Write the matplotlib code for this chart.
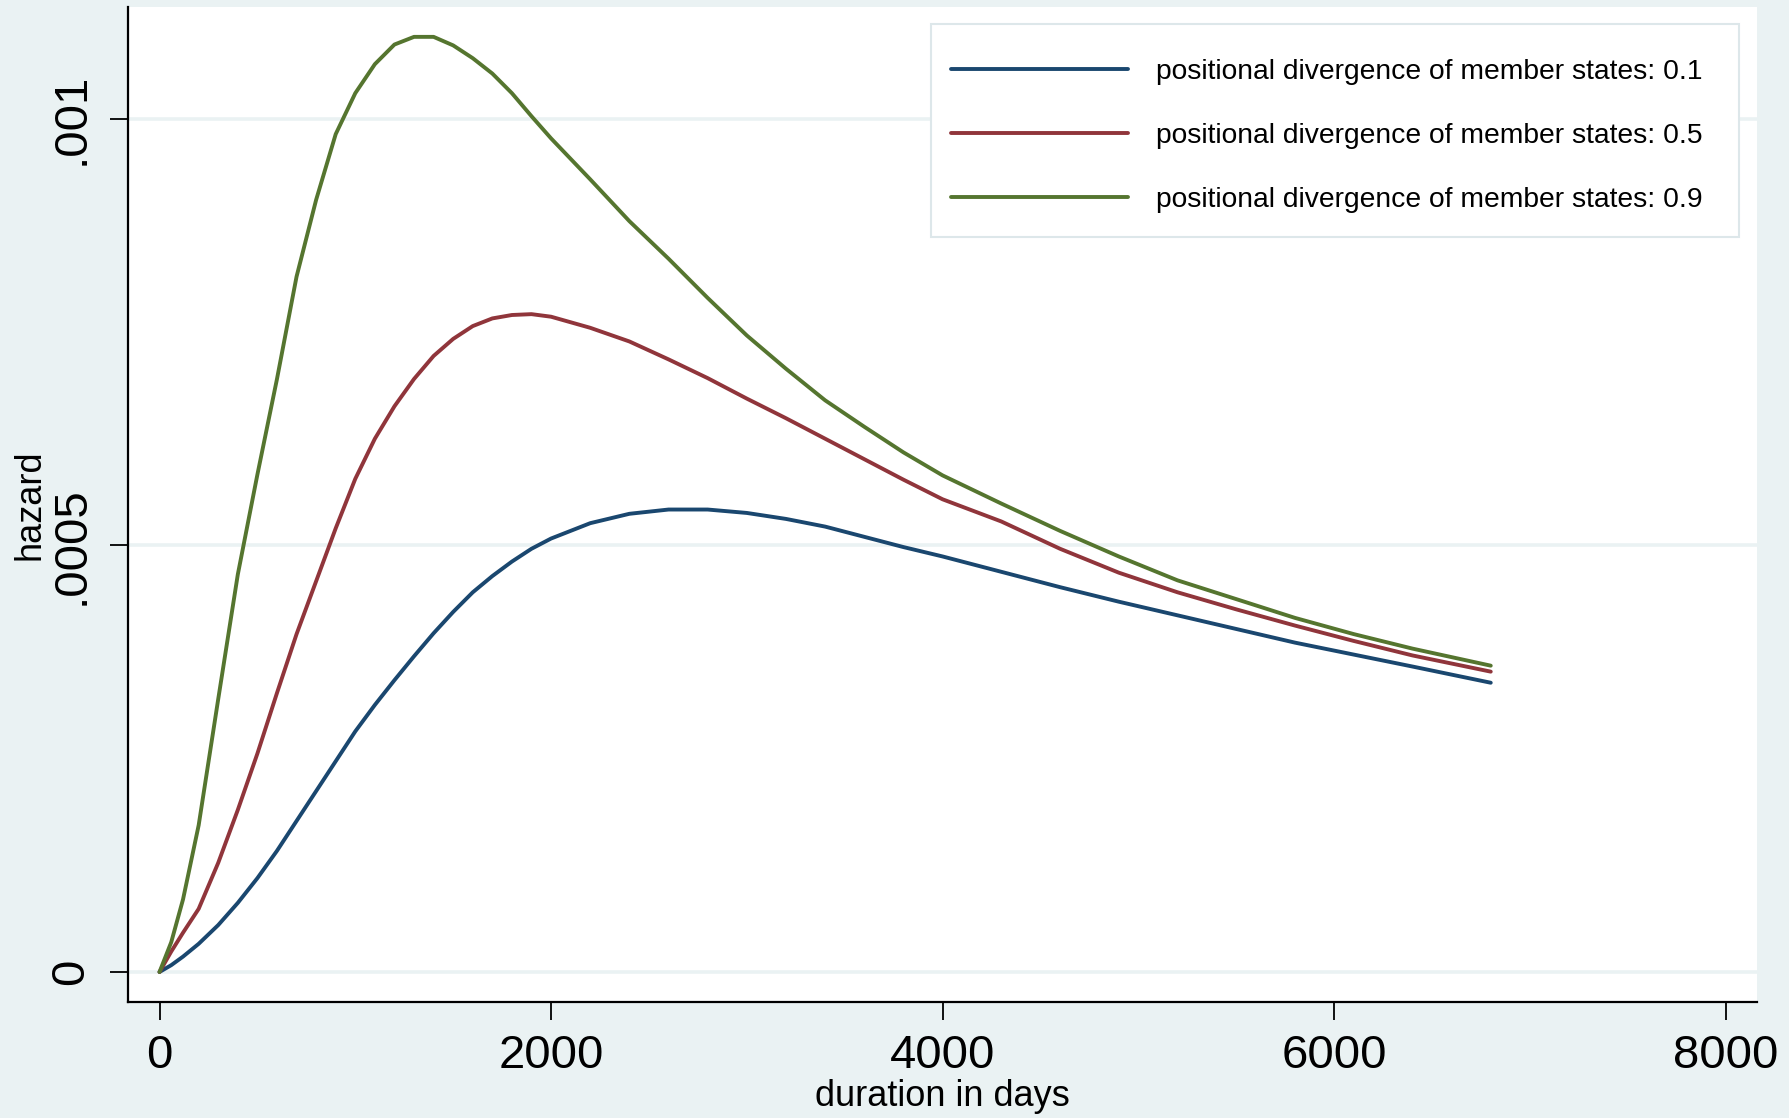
import matplotlib
matplotlib.use("Agg")
import matplotlib.pyplot as plt
from matplotlib.patches import Rectangle

plt.rcParams['font.family'] = ['Liberation Sans', 'DejaVu Sans']

# ---- data, hazard values in units of 1e-3 ----
days = [0, 60, 120, 200, 300, 400, 500, 600, 700, 800,
        900, 1000, 1100, 1200, 1300, 1400, 1500, 1600, 1700, 1800,
        1900, 2000, 2200, 2400, 2600, 2800, 3000, 3200, 3400, 3600,
        3800, 4000, 4300, 4600, 4900, 5200, 5500, 5800, 6100, 6400,
        6800]

hazard_01 = [0, 0.008, 0.018, 0.033, 0.055, 0.081, 0.110, 0.142, 0.177, 0.212,
             0.247, 0.282, 0.313, 0.342, 0.370, 0.397, 0.422, 0.445, 0.464, 0.481,
             0.496, 0.508, 0.526, 0.537, 0.542, 0.542, 0.538, 0.531, 0.522, 0.510,
             0.498, 0.487, 0.469, 0.451, 0.434, 0.418, 0.402, 0.386, 0.372, 0.358,
             0.339]

hazard_05 = [0, 0.024, 0.046, 0.074, 0.128, 0.190, 0.256, 0.327, 0.396, 0.458,
             0.520, 0.578, 0.625, 0.663, 0.695, 0.722, 0.742, 0.757, 0.766, 0.770,
             0.771, 0.768, 0.755, 0.739, 0.718, 0.696, 0.672, 0.649, 0.625, 0.601,
             0.577, 0.554, 0.528, 0.496, 0.468, 0.445, 0.425, 0.406, 0.388, 0.371,
             0.352]

hazard_09 = [0, 0.035, 0.085, 0.172, 0.320, 0.466, 0.583, 0.695, 0.815, 0.905,
             0.982, 1.030, 1.064, 1.087, 1.096, 1.096, 1.086, 1.071, 1.053, 1.030,
             1.003, 0.977, 0.929, 0.880, 0.836, 0.790, 0.746, 0.707, 0.670, 0.639,
             0.609, 0.582, 0.549, 0.517, 0.487, 0.459, 0.437, 0.415, 0.396, 0.379,
             0.359]

series_labels = ["positional divergence of member states: 0.1",
                 "positional divergence of member states: 0.5",
                 "positional divergence of member states: 0.9"]
series_colors = ["#1A476F", "#90353B", "#55752F"]

x_ticks = [0, 2000, 4000, 6000, 8000]
x_ticklabels = ["0", "2000", "4000", "6000", "8000"]
y_ticks = [0, 0.0005, 0.001]
y_ticklabels = ["0", ".0005", ".001"]

BG = "#EAF2F3"

W, H = 1789, 1118
fig = plt.figure(figsize=(W / 100, H / 100), dpi=100, facecolor=BG)
ax = fig.add_axes([128 / W, 1 - 1002 / H, (1757 - 128) / W, (1002 - 7) / H])
ax.set_facecolor("white")

for vals, lab, col in zip([hazard_01, hazard_05, hazard_09], series_labels, series_colors):
    ax.plot(days, [v * 1e-3 for v in vals], color=col, lw=2.8, label=lab,
            solid_joinstyle="round", solid_capstyle="round", zorder=3)

ax.set_xlim(-161, 8160)
ax.set_ylim(-0.0000352, 0.001131)

ax.set_xticks(x_ticks)
ax.set_xticklabels(x_ticklabels)
ax.set_yticks(y_ticks)
ax.set_yticklabels(y_ticklabels, rotation=90, va="center")

ax.tick_params(axis="both", direction="out", length=13, width=1.3, color="black",
               labelsize=34, labelcolor="black")
ax.tick_params(axis="x", pad=10)
ax.tick_params(axis="y", pad=12)

for s in ["top", "right"]:
    ax.spines[s].set_visible(False)
for s in ["left", "bottom"]:
    ax.spines[s].set_color("black")
    ax.spines[s].set_linewidth(1.6)

ax.yaxis.grid(True, color=BG, lw=2.6, zorder=0)
ax.set_axisbelow(True)

fig.text(942 / W, 1 - 1096 / H, "duration in days", fontsize=26,
         ha="center", va="center")
fig.text(30 / W, 1 - 504.5 / H, "hazard", fontsize=26, rotation=90,
         ha="center", va="center")

# legend frame (drawn separately so paddings match the reference)
frame = Rectangle((931 / W, 1 - 237 / H), (1739 - 931) / W, (237 - 24) / H,
                  transform=fig.transFigure, facecolor="white",
                  edgecolor="#DDE7EA", linewidth=1.5, zorder=4.5, clip_on=False)
ax.add_artist(frame)

leg = ax.legend(loc="upper left", bbox_to_anchor=(951 / W, 1 - 59 / H),
                bbox_transform=fig.transFigure, borderaxespad=0,
                fontsize=20.3, frameon=False,
                handlelength=6.28, handletextpad=0.99, labelspacing=1.35,
                borderpad=0)
leg.set_zorder(5)
for line in leg.get_lines():
    line.set_linewidth(2.8)

fig.savefig("out.png", dpi=100, facecolor=BG)
